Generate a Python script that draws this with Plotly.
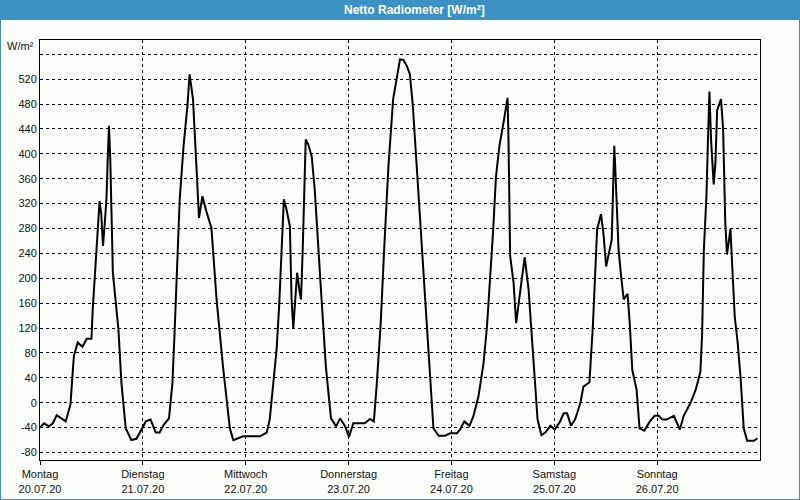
import plotly.graph_objects as go

# Stunden seit Montag 00:00 und Messwerte in W/m²
mo_h = [0, 0.9, 2.1, 3.0, 3.9, 5.0, 6.0, 7.1, 7.9, 8.8, 9.9, 10.9, 12.0, 12.3, 13.1,
        13.9, 14.3, 14.7, 15.1, 15.5, 15.8, 16.1, 16.4, 17.0, 18.3, 19.0, 20.0, 21.3, 22.5, 23.6]
mo_v = [-40, -33, -38, -33, -20, -25, -30, -3, 75, 97, 90, 103, 103, 150, 241,
        324, 303, 252, 287, 327, 391, 445, 391, 209, 118, 32, -41, -60, -58, -43]

di_h = [24.7, 25.8, 27.0, 27.9, 28.9, 30.1, 30.9, 31.4, 32.0, 32.6, 33.5, 34.4, 34.9,
        35.7, 36.5, 37.1, 37.9, 38.8, 40.0, 41.2, 42.7, 44.3, 45.1, 46.2, 47.4]
di_v = [-30, -27, -48, -48, -35, -25, 32, 112, 209, 327, 413, 477, 528,
        488, 380, 297, 332, 308, 281, 166, 58, -41, -60, -57, -54]

mi_h = [51.3, 52.9, 53.6, 54.4, 55.2, 55.8, 56.4, 56.9, 57.5, 58.3, 58.7, 59.1, 59.5, 60.0,
        60.5, 60.9, 61.3, 61.6, 62.0, 62.6, 63.4, 64.1, 64.9, 65.7, 66.7, 67.9, 69.1, 70.0, 71.2]
mi_v = [-54, -48, -27, 32, 85, 155, 246, 327, 311, 284, 166, 120, 160, 209,
        182, 166, 246, 343, 423, 415, 396, 343, 262, 166, 58, -25, -38, -25, -38]

do_h = [72.1, 73.1, 75.8, 77.0, 77.9, 78.6, 79.5, 80.3, 81.3, 82.4, 84.0, 84.8,
        85.6, 86.3, 87.0, 87.9, 89.1, 90.3, 91.0, 91.8, 93.0, 94.5, 95.7]
do_v = [-55, -33, -33, -26, -30, 32, 128, 246, 380, 488, 552, 551,
        541, 528, 477, 380, 252, 112, 32, -41, -53, -53, -49]

fr_h = [97.3, 98.0, 99.0, 100.2, 101.1, 102.3, 103.5, 104.3, 105.0, 105.7, 106.4, 107.2, 108.3,
        109.1, 109.3, 109.7, 110.5, 111.1, 112.1, 113.1, 114.0, 115.2, 116.1, 117.0, 117.9, 119.1]
fr_v = [-49, -43, -30, -37, -22, 10, 64, 123, 193, 273, 364, 413, 456,
        490, 429, 236, 193, 128, 182, 234, 182, 69, -27, -52, -48, -37]

sa_h = [120.1, 121.2, 122.2, 123.0, 123.9, 124.9, 126.1, 126.8, 128.2, 129.0, 130.0, 130.9,
        131.5, 132.1, 132.9, 133.4, 133.7, 134.0, 134.5, 135.0, 135.6, 136.2, 137.1, 137.6,
        138.2, 139.2, 139.9, 141.0, 142.3, 143.4]
sa_v = [-43, -32, -17, -17, -37, -26, 0, 26, 33, 123, 279, 303,
        270, 219, 246, 262, 338, 413, 332, 246, 203, 166, 175, 128,
        53, 21, -41, -45, -30, -21]

so_h = [144.4, 145.2, 146.2, 147.9, 149.3, 150.2, 151.8, 153.0, 154.1, 154.5, 154.9, 155.5,
        155.8, 156.2, 156.6, 157.2, 157.6, 158.0, 158.9, 159.4, 159.9, 160.3, 161.1, 161.5,
        162.1, 162.8, 163.5, 164.2, 165.0, 166.6, 167.4]
so_v = [-21, -27, -27, -21, -43, -21, 0, 21, 50, 112, 246, 332,
        407, 500, 420, 351, 386, 470, 488, 439, 289, 238, 279, 219,
        139, 96, 37, -41, -61, -61, -57]

tage = ["Montag", "Dienstag", "Mittwoch", "Donnerstag", "Freitag", "Samstag", "Sonntag"]
daten = ["20.07.20", "21.07.20", "22.07.20", "23.07.20", "24.07.20", "25.07.20", "26.07.20"]
y_ticks = list(range(-80, 561, 40))

hours = mo_h + di_h + mi_h + do_h + fr_h + sa_h + so_h
values = mo_v + di_v + mi_v + do_v + fr_v + sa_v + so_v

BLUE = "#3c91c4"
BG = "#fbfdfb"
FONT = "Liberation Sans"

fig = go.Figure()
fig.add_trace(go.Scatter(x=hours, y=values, mode="lines",
                         line=dict(color="black", width=2), hoverinfo="skip"))

fig.update_layout(
    width=800, height=500,
    margin=dict(l=40, r=40, t=40, b=40, autoexpand=False),
    paper_bgcolor=BG, plot_bgcolor=BG,
    showlegend=False,
    font=dict(family=FONT, size=11, color="#111111"),
)

fig.update_xaxes(
    range=[0, 168],
    tickvals=[24 * i for i in range(7)],
    ticktext=[f"{t}<br>{d}" for t, d in zip(tage, daten)],
    showgrid=True, gridcolor="black", gridwidth=1, griddash="3px,3px",
    ticks="outside", ticklen=4, tickcolor="black",
    showline=True, linecolor="black", linewidth=1, mirror=True,
    zeroline=False, tickangle=0, automargin=False,
)
fig.update_yaxes(
    range=[-92, 583],
    tickvals=y_ticks,
    ticktext=[str(v) if v < 560 else "" for v in y_ticks],
    showgrid=True, gridcolor="black", gridwidth=1, griddash="3px,3px",
    ticks="", showline=True, linecolor="black", linewidth=1, mirror=True,
    zeroline=False, automargin=False,
)

# Titelleiste und Rahmen (Pixel in Papierkoordinaten umgerechnet)
def px(x):
    return (x - 40) / 720

def py(y):
    return (460 - y) / 420

fig.add_shape(type="rect", xref="paper", yref="paper",
              x0=px(0), x1=px(800), y0=py(20), y1=py(0),
              fillcolor=BLUE, line=dict(width=0), layer="above")
fig.add_shape(type="rect", xref="paper", yref="paper",
              x0=px(0), x1=px(800), y0=py(500), y1=py(0),
              line=dict(color=BLUE, width=2), layer="above")

fig.add_annotation(xref="paper", yref="paper", x=px(414), y=py(10),
                   text="<b>Netto Radiometer [W/m²]</b>", showarrow=False,
                   font=dict(family=FONT, size=12, color="white"),
                   xanchor="center", yanchor="middle")
fig.add_annotation(xref="paper", yref="paper", x=px(36), y=py(46),
                   text="W/m²", showarrow=False,
                   font=dict(family=FONT, size=11, color="#111111"),
                   xanchor="right", yanchor="middle")

page_css = (
    "var s=document.createElement('style');"
    "s.textContent='html,body{margin:0;padding:0;width:800px;height:500px;overflow:hidden;}';"
    "document.head.appendChild(s);"
)

fig.write_html("out.html", config={"displayModeBar": False}, post_script=page_css)
